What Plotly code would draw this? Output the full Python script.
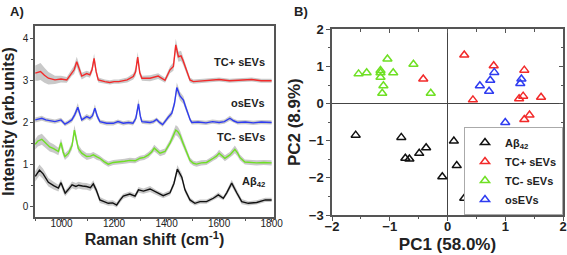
import plotly.graph_objects as go

# ---------------- Panel A: Raman spectra (offset) ----------------
wn_tcp = [900,910,920,935,950,975,998,1020,1039,1048,1058,1067,1077,1096,1108,1116,1124,1132,1140,1165,
          1184,1200,1218,1250,1273,1282,1290,1298,1306,1337,1368,1394,1413,1426,1435,1445,1455,1462,1470,1480,
          1489,1502,1530,1560,1600,1640,1680,1724,1760,1800]
val_tcp = [3.17,3.19,3.21,3.12,3.05,3.01,3.03,3.01,3.18,3.25,3.44,3.25,3.10,3.16,3.13,3.25,3.52,3.20,3.01,2.97,
           2.95,2.97,2.97,3.01,3.09,3.20,3.55,3.18,3.05,3.05,3.10,3.00,3.25,3.33,3.84,3.56,3.58,3.48,3.33,3.15,
           3.01,2.97,2.98,2.99,3.02,2.99,3.00,3.02,2.99,2.99]
sd_tcp = [0.18,0.20,0.20,0.18,0.15,0.10,0.08,0.07,0.08,0.10,0.12,0.10,0.08,0.07,0.07,0.08,0.12,0.08,0.06,0.05,
          0.05,0.05,0.05,0.06,0.07,0.10,0.12,0.08,0.06,0.07,0.07,0.06,0.08,0.10,0.15,0.12,0.12,0.10,0.08,0.07,
          0.06,0.05,0.05,0.05,0.05,0.05,0.05,0.05,0.05,0.05]

wn_os = [900,912,925,940,955,975,998,1013,1025,1039,1050,1062,1070,1077,1096,1108,1118,1127,1136,1146,
         1172,1197,1215,1235,1255,1272,1283,1293,1300,1306,1320,1337,1350,1362,1373,1385,1407,1420,1430,1439,
         1451,1464,1472,1480,1490,1496,1520,1550,1575,1600,1620,1641,1655,1670,1700,1730,1760,1800]
val_os = [2.06,2.08,2.10,2.06,2.04,2.02,2.06,1.96,2.00,2.06,2.18,2.36,2.20,2.06,2.14,2.10,2.16,2.34,2.15,2.02,
          1.98,1.98,2.02,1.98,2.00,1.98,2.10,2.44,2.15,2.02,2.01,2.00,2.02,2.07,2.00,1.95,2.13,2.22,2.45,2.83,
          2.63,2.53,2.38,2.22,2.06,2.00,2.01,1.99,2.02,2.00,2.02,2.10,2.04,2.00,2.01,1.99,2.01,2.00]
sd_os = [0.06,0.06,0.06,0.05,0.05,0.05,0.05,0.05,0.05,0.06,0.07,0.10,0.07,0.05,0.06,0.06,0.07,0.09,0.07,0.05,
         0.05,0.05,0.05,0.05,0.05,0.05,0.07,0.12,0.08,0.05,0.05,0.05,0.05,0.05,0.05,0.05,0.06,0.07,0.09,0.12,
         0.10,0.09,0.08,0.07,0.05,0.05,0.05,0.05,0.05,0.05,0.05,0.06,0.05,0.05,0.05,0.05,0.05,0.05]

wn_tcm = [900,910,925,940,955,970,988,998,1006,1013,1027,1040,1049,1057,1064,1077,1096,1110,1121,1135,
          1146,1162,1178,1197,1218,1240,1260,1280,1299,1315,1331,1343,1353,1363,1375,1394,1413,1425,1435,1443,
          1451,1462,1470,1480,1489,1502,1514,1532,1552,1578,1590,1600,1611,1622,1641,1650,1660,1670,1679,1698,
          1720,1743,1770,1800]
val_tcm = [1.48,1.56,1.60,1.52,1.42,1.38,1.31,1.52,1.30,1.19,1.27,1.45,1.82,1.58,1.38,1.27,1.19,1.20,1.23,1.18,
           1.15,1.07,1.01,1.05,1.06,1.08,1.10,1.09,1.15,1.17,1.23,1.30,1.39,1.33,1.27,1.31,1.51,1.68,1.82,1.78,
           1.70,1.52,1.39,1.25,1.10,1.03,1.01,1.04,1.05,1.15,1.20,1.27,1.22,1.15,1.23,1.29,1.36,1.28,1.17,1.06,
           1.05,1.04,1.05,1.04]
sd_tcm = [0.12,0.13,0.13,0.12,0.11,0.10,0.09,0.10,0.09,0.08,0.08,0.09,0.12,0.10,0.09,0.08,0.08,0.07,0.07,0.07,
          0.06,0.06,0.06,0.06,0.06,0.06,0.06,0.06,0.06,0.06,0.07,0.07,0.08,0.07,0.07,0.07,0.08,0.10,0.12,0.12,
          0.11,0.10,0.09,0.08,0.07,0.06,0.06,0.06,0.06,0.06,0.07,0.08,0.07,0.07,0.07,0.08,0.09,0.08,0.07,0.06,
          0.06,0.06,0.06,0.06]

wn_ab = [900,908,916,930,950,970,988,998,1006,1014,1025,1040,1055,1065,1080,1095,1110,1121,1132,1146,
         1162,1178,1195,1210,1222,1235,1260,1280,1293,1312,1337,1362,1387,1413,1428,1441,1458,1470,1489,1508,
         1527,1552,1578,1597,1616,1629,1648,1667,1686,1711,1743,1776,1800]
val_ab = [0.72,0.80,0.87,0.78,0.58,0.50,0.44,0.57,0.42,0.32,0.40,0.52,0.48,0.51,0.49,0.48,0.45,0.54,0.40,0.16,
          0.12,0.08,0.09,0.04,0.15,0.25,0.30,0.25,0.40,0.37,0.42,0.33,0.26,0.33,0.55,0.89,0.70,0.40,0.16,0.08,
          0.12,0.12,0.20,0.28,0.20,0.33,0.56,0.33,0.12,0.08,0.10,0.16,0.16]
sd_ab = [0.12,0.13,0.13,0.12,0.10,0.09,0.08,0.08,0.08,0.07,0.07,0.08,0.08,0.08,0.08,0.08,0.08,0.09,0.08,0.07,
         0.06,0.06,0.06,0.06,0.06,0.06,0.06,0.06,0.07,0.06,0.07,0.06,0.06,0.06,0.07,0.10,0.09,0.07,0.06,0.05,
         0.05,0.05,0.05,0.06,0.05,0.06,0.08,0.07,0.06,0.05,0.05,0.05,0.05]

spectra_labels = ["TC+ sEVs", "osEVs", "TC- sEVs", "Aβ<sub>42</sub>"]

# ---------------- Panel B: PCA scores ----------------
pc1_ab = [-1.59, -0.80, -0.73, -0.66, -0.49, -0.37, -0.09, 0.11, 0.16, 0.29]
pc2_ab = [-0.85, -0.91, -1.47, -1.49, -1.34, -1.19, -1.97, -1.01, -1.67, -2.55]
pc1_tcp = [-0.42, 0.29, 0.44, 0.80, 1.33, 1.24, 1.31, 1.62, 1.33, 1.42]
pc2_tcp = [0.66, 1.31, 0.10, 1.02, 0.90, 0.13, 0.20, 0.17, -0.43, -0.31]
pc1_tcm = [-1.54, -1.40, -1.16, -1.16, -1.16, -1.11, -1.13, -1.04, -0.94, -0.59, -0.29]
pc2_tcm = [0.80, 0.83, 0.89, 0.83, 0.71, 0.48, 0.28, 1.20, 0.83, 1.06, 0.28]
pc1_os = [0.56, 0.72, 0.74, 0.81, 1.28, 1.26, 1.00]
pc2_os = [0.48, 0.33, 0.63, 0.84, 0.66, 0.54, -0.51]

RED = "#f22a2a"
BLUE = "#2f3cf0"
GREEN = "#6fe024"
BLACK = "#111111"
BAND = "#c9c9c9"
FONT = "Liberation Sans, Arial, sans-serif"
FRAME = "#555555"

fig = go.Figure()

spectra = [(wn_tcp, val_tcp, sd_tcp, RED), (wn_os, val_os, sd_os, BLUE),
           (wn_tcm, val_tcm, sd_tcm, GREEN), (wn_ab, val_ab, sd_ab, BLACK)]
for wn, v, sd, col in spectra:
    upper = [a + b for a, b in zip(v, sd)]
    lower = [a - b for a, b in zip(v, sd)]
    fig.add_trace(go.Scatter(x=wn, y=upper, mode="lines", line=dict(width=0, color=BAND),
                             showlegend=False, hoverinfo="skip", xaxis="x", yaxis="y"))
    fig.add_trace(go.Scatter(x=wn, y=lower, mode="lines", line=dict(width=0, color=BAND),
                             fill="tonexty", fillcolor=BAND, showlegend=False, hoverinfo="skip",
                             xaxis="x", yaxis="y"))
    fig.add_trace(go.Scatter(x=wn, y=v, mode="lines", line=dict(width=1.4, color=col),
                             showlegend=False, xaxis="x", yaxis="y"))

pca = [("Aβ<sub>42</sub>", pc1_ab, pc2_ab, BLACK), ("TC+ sEVs", pc1_tcp, pc2_tcp, RED),
       ("TC- sEVs", pc1_tcm, pc2_tcm, GREEN), ("osEVs", pc1_os, pc2_os, BLUE)]
for name, px, py, col in pca:
    fig.add_trace(go.Scatter(x=px, y=py, mode="markers", name=name,
                             marker=dict(symbol="triangle-up-open", size=8, color=col,
                                         line=dict(width=1.5, color=col)),
                             xaxis="x2", yaxis="y2"))
# dummy trace for the mirrored (inward) tick axes of panel B
fig.add_trace(go.Scatter(x=[None], y=[None], xaxis="x3", yaxis="y3", showlegend=False))

tickfont_a = dict(family=FONT, size=10, color="#222")
tickfont_b = dict(family=FONT, size=13, color="#222", weight="bold")

fig.update_layout(
    template="none",
    width=567, height=255, margin=dict(l=0, r=0, t=0, b=0, autoexpand=False),
    paper_bgcolor="white", plot_bgcolor="white",
    font=dict(family=FONT, color="#222"),
    xaxis=dict(domain=[35/567, 274/567], range=[899, 1809], anchor="y", automargin=False,
               tickvals=[1000, 1200, 1400, 1600, 1800], ticks="outside", ticklen=3, tickwidth=1.2,
               tickcolor=FRAME, minor=dict(tickvals=[900, 1100, 1300, 1500, 1700], ticks="outside",
                                           ticklen=2, tickcolor=FRAME),
               showline=True, linecolor=FRAME, linewidth=1.5, mirror=True, showgrid=False,
               zeroline=False, tickfont=tickfont_a, ticklabelstandoff=-7,
               title=dict(text="Raman shift (cm<sup>-1</sup>)", standoff=3,
                          font=dict(family=FONT, size=16, weight="bold", color="#222"))),
    yaxis=dict(domain=[1-217/255, 1-26/255], range=[-0.245, 4.29], anchor="x", automargin=False,
               tickvals=[0, 1, 2, 3, 4], ticks="outside", ticklen=3, tickwidth=1.2, tickcolor=FRAME,
               minor=dict(tickvals=[0.5, 1.5, 2.5, 3.5], ticks="outside", ticklen=2, tickcolor=FRAME),
               showline=True, linecolor=FRAME, linewidth=1.5, mirror=True, showgrid=False,
               zeroline=False, tickfont=tickfont_a,
               title=dict(text="Intensity (arb.units)", standoff=5,
                          font=dict(family=FONT, size=16, weight="bold", color="#222"))),
    xaxis2=dict(domain=[332/567, 563/567], range=[-2, 2], anchor="y2", automargin=False,
                tickvals=[-2, -1, 0, 1, 2], ticks="outside", ticklen=4, tickwidth=1.2, tickcolor=FRAME,
                minor=dict(tickvals=[-1.5, -0.5, 0.5, 1.5], ticks="outside", ticklen=2.5, tickcolor=FRAME),
                showline=True, linecolor=FRAME, linewidth=1.5, mirror=True, showgrid=False,
                zeroline=True, zerolinecolor="#444", zerolinewidth=1.2, tickfont=tickfont_b,
                ticklabelstandoff=-5,
                title=dict(text="PC1 (58.0%)", standoff=5,
                           font=dict(family=FONT, size=17, weight="bold", color="#222"))),
    yaxis2=dict(domain=[1-215/255, 1-29.3/255], range=[-3, 2], anchor="x2", automargin=False,
                tickvals=[-3, -2, -1, 0, 1, 2], ticks="outside", ticklen=4, tickwidth=1.2, tickcolor=FRAME,
                minor=dict(tickvals=[-2.5, -1.5, -0.5, 0.5, 1.5], ticks="outside", ticklen=2.5,
                           tickcolor=FRAME),
                showline=True, linecolor=FRAME, linewidth=1.5, mirror=True, showgrid=False,
                zeroline=True, zerolinecolor="#444", zerolinewidth=1.2, tickfont=tickfont_b,
                title=dict(text="PC2 (8.9%)", standoff=4,
                           font=dict(family=FONT, size=17, weight="bold", color="#222"))),
    xaxis3=dict(overlaying="x2", anchor="y3", side="top", range=[-2, 2], automargin=False,
                tickvals=[-2, -1, 0, 1, 2], ticks="inside", ticklen=4, tickcolor=FRAME,
                minor=dict(tickvals=[-1.5, -0.5, 0.5, 1.5], ticks="inside", ticklen=2.5, tickcolor=FRAME),
                showticklabels=False, showgrid=False, zeroline=False, showline=False),
    yaxis3=dict(overlaying="y2", anchor="x3", side="right", range=[-3, 2], automargin=False,
                tickvals=[-3, -2, -1, 0, 1, 2], ticks="inside", ticklen=4, tickcolor=FRAME,
                minor=dict(tickvals=[-2.5, -1.5, -0.5, 0.5, 1.5], ticks="inside", ticklen=2.5,
                           tickcolor=FRAME),
                showticklabels=False, showgrid=False, zeroline=False, showline=False),
    legend=dict(x=563/567, y=1-215/255, xanchor="right", yanchor="bottom", traceorder="normal",
                bgcolor="white", bordercolor="#aaa", borderwidth=1,
                font=dict(family=FONT, size=11, weight="bold", color="#222"),
                itemwidth=30, tracegroupgap=0),
    showlegend=True,
)

# spectrum labels (panel A)
label_pos = [3.44, 2.47, 1.66, 0.59]
for txt, yv in zip(spectra_labels, label_pos):
    fig.add_annotation(x=1781, y=yv, xref="x", yref="y", text=txt, showarrow=False,
                       xanchor="right", yanchor="middle",
                       font=dict(family=FONT, size=11, weight="bold", color="#222"))

# panel letters
fig.add_annotation(x=8/567, y=1-2/255, xref="paper", yref="paper", text="A)", showarrow=False,
                   xanchor="left", yanchor="top", font=dict(family=FONT, size=13, weight="bold", color="#222"))
fig.add_annotation(x=292/567, y=1-2/255, xref="paper", yref="paper", text="B)", showarrow=False,
                   xanchor="left", yanchor="top", font=dict(family=FONT, size=13, weight="bold", color="#222"))

fig.write_html("out.html", config={"displayModeBar": False},
               post_script="document.body.style.margin='0';")
